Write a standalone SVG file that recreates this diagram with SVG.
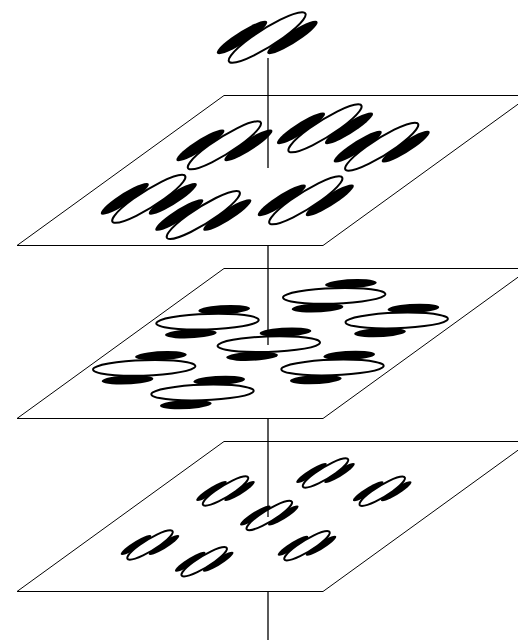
<svg xmlns="http://www.w3.org/2000/svg" xmlns:xlink="http://www.w3.org/1999/xlink" width="518" height="642" viewBox="0 0 518 642">
<style>
.plane{fill:#fff;stroke:#000;stroke-width:1}
.wht{fill:#fff;stroke:#000;stroke-width:2;vector-effect:non-scaling-stroke}
.blk{fill:#000}
.conn{stroke:#000;stroke-width:1.3;fill:none}
</style>
<defs>
<g id="rfV" transform="matrix(1 0 0.81 -0.587 0 0)">
<ellipse class="blk" cx="-24" cy="0" rx="10" ry="27"/>
<ellipse class="blk" cx="24" cy="0" rx="10" ry="27"/>
<ellipse class="wht" cx="0" cy="0" rx="15.5" ry="41"/>
</g>
<g id="rfH" transform="matrix(1 0 0.81 -0.587 0 0)">
<ellipse class="blk" cx="0" cy="20.6" rx="25" ry="8"/>
<ellipse class="blk" cx="0" cy="-20.6" rx="25" ry="8"/>
<ellipse class="wht" cx="0" cy="0" rx="50" ry="13.5"/>
</g>
<g id="rfS" transform="matrix(1 0 0.81 -0.587 0 0)">
<ellipse class="blk" cx="-14" cy="0" rx="6.5" ry="17"/>
<ellipse class="blk" cx="14" cy="0" rx="6.5" ry="17"/>
<ellipse class="wht" cx="0" cy="0" rx="10.5" ry="25"/>
</g>
</defs>
<g id="layer3">
<polygon class="plane" points="224,441.5 530,441.5 323,591.5 17,591.5"/>
<use xlink:href="#rfS" transform="translate(225.5,491)"/>
<use xlink:href="#rfS" transform="translate(325.5,473)"/>
<use xlink:href="#rfS" transform="translate(382.2,491.2)"/>
<use xlink:href="#rfS" transform="translate(269.3,515.5)"/>
<use xlink:href="#rfS" transform="translate(150,545)"/>
<use xlink:href="#rfS" transform="translate(204.2,561.7)"/>
<use xlink:href="#rfS" transform="translate(307,545.8)"/>
</g>
<g id="layer2">
<polygon class="plane" points="224,268.5 530,268.5 323,418.5 17,418.5"/>
<use xlink:href="#rfH" transform="translate(207.5,321.7)"/>
<use xlink:href="#rfH" transform="translate(334.2,295.8)"/>
<use xlink:href="#rfH" transform="translate(396.7,320.5)"/>
<use xlink:href="#rfH" transform="translate(268.8,344.2)"/>
<use xlink:href="#rfH" transform="translate(144.2,367.8)"/>
<use xlink:href="#rfH" transform="translate(332.5,367.5)"/>
<use xlink:href="#rfH" transform="translate(202.5,392.5)"/>
</g>
<g id="layer1">
<polygon class="plane" points="224,95.5 530,95.5 323,245.5 17,245.5"/>
<use xlink:href="#rfV" transform="translate(224.4,145.3)"/>
<use xlink:href="#rfV" transform="translate(325,128.3)"/>
<use xlink:href="#rfV" transform="translate(381.7,146.7)"/>
<use xlink:href="#rfV" transform="translate(148.8,198.8)"/>
<use xlink:href="#rfV" transform="translate(203.3,215)"/>
<use xlink:href="#rfV" transform="translate(305.8,200.3)"/>
</g>
<g id="top">
<use xlink:href="#rfV" transform="translate(267.2,37.5) scale(1.05)"/>
</g>
<g id="connectors">
<line class="conn" x1="268" y1="58" x2="268" y2="168"/>
<line class="conn" x1="268" y1="246" x2="268" y2="345"/>
<line class="conn" x1="268" y1="419" x2="268" y2="517"/>
<line class="conn" x1="268" y1="592" x2="268" y2="640"/>
</g>
</svg>
